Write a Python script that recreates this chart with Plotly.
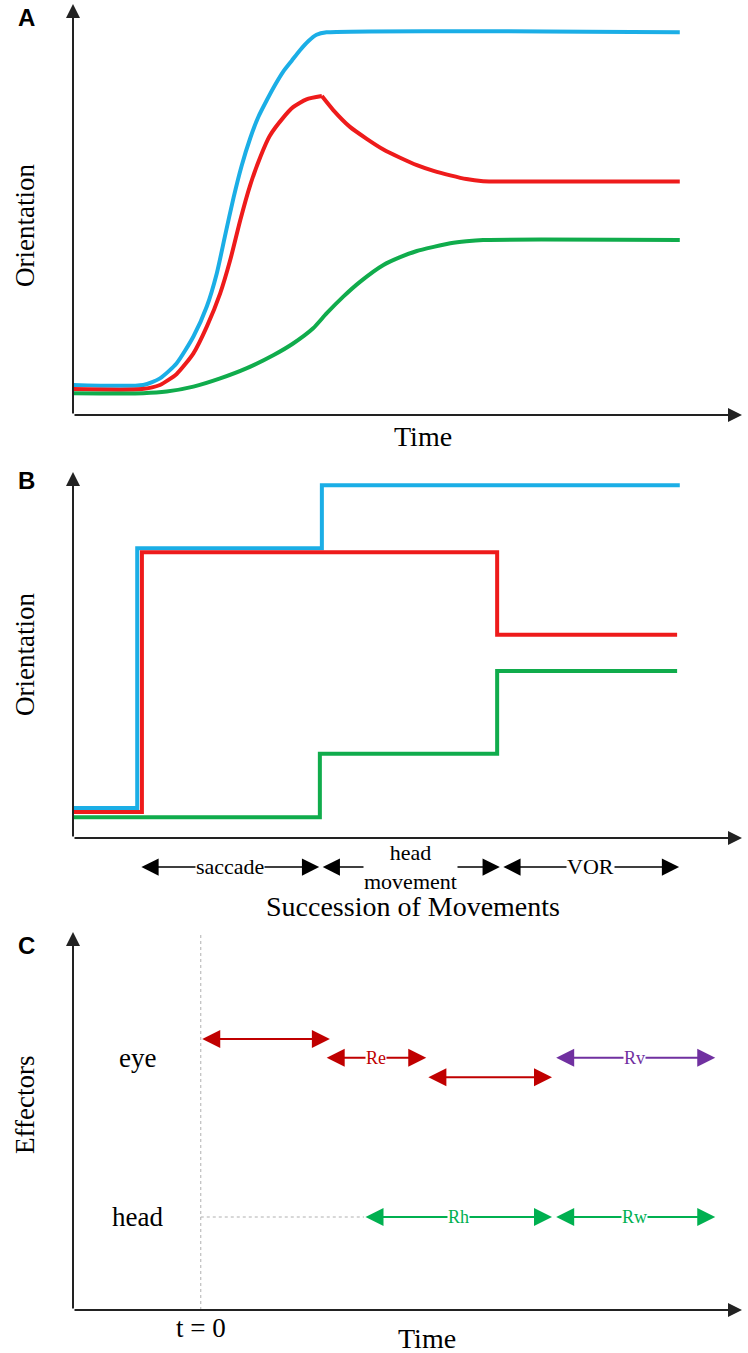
import plotly.graph_objects as go

# ---- panel A: continuous gaze shift (time / orientation, arbitrary units 0-100)
gaze_t_a = [0, 10.5, 13.0, 15.5, 18.0, 20.0, 21.5, 22.7, 24.0, 25.2, 26.5, 27.7, 29.0, 30.2,
            31.4, 32.7, 33.9, 35.2, 36.4, 37.9, 90.7]
gaze_a = [7.3, 7.3, 8.9, 12.6, 19.1, 26.4, 34.5, 43.4, 52.9, 60.6, 67.4, 72.5, 76.7, 80.3,
          83.5, 86.2, 88.7, 91.0, 92.5, 93.1, 93.1]

eye_t_a = [0, 10.3, 13.0, 15.5, 18.0, 20.0, 22.0, 23.5, 25.0, 26.5, 28.0, 29.4, 31.4, 32.9, 34.9, 37.2,
           38.9, 41.4, 43.9, 46.4, 48.9, 51.4, 53.9, 56.4, 58.8, 61.3, 63.8, 90.7]
eye_a = [6.3, 6.3, 7.3, 10.0, 15.0, 21.5, 29.6, 37.7, 47.4, 56.0, 62.8, 67.9, 72.3, 74.9, 76.8, 77.6,
         74.2, 70.1, 67.2, 64.6, 62.6, 60.8, 59.4, 58.3, 57.4, 56.9, 56.8, 56.8]

head_t_a = [0, 10.5, 14.0, 18.0, 22.0, 26.0, 30.0, 32.9, 35.9, 37.9, 40.4, 42.9, 46.4, 48.9,
            51.4, 53.9, 56.4, 58.8, 61.3, 90.7]
head_a = [5.3, 5.3, 5.7, 6.9, 8.9, 11.4, 14.6, 17.4, 21.1, 24.7, 28.8, 32.4, 36.5, 38.4,
          39.9, 40.9, 41.8, 42.3, 42.6, 42.6]

# ---- panel B: succession of movements (step changes)
gaze_t_b = [0, 9.6, 37.2, 90.7]
gaze_b = [8.2, 79.2, 96.4, 96.4]
eye_t_b = [0, 10.3, 63.4, 90.3]
eye_b = [7.1, 78.1, 55.5, 55.5]
head_t_b = [0, 36.9, 63.4, 90.3]
head_b = [5.7, 23.0, 45.6, 45.6]

phase_names = ["saccade", "head<br>movement", "VOR"]
phase_start = [10.0, 37.1, 64.1]
phase_end = [36.8, 63.8, 90.6]

# ---- panel C: effectors over time
effector_names = ["eye", "head"]
effector_level = [66.7, 24.6]
t0 = 19.1
c_labels = ["", "Re", "", "Rv", "Rh", "Rw"]
c_start = [19.1, 37.7, 52.9, 72.0, 43.5, 72.0]
c_end = [38.4, 52.8, 71.6, 96.0, 71.6, 96.0]
c_level = [71.7, 66.7, 61.6, 66.7, 24.6, 24.6]
c_color = ["#C00000", "#C00000", "#C00000", "#7030A0", "#00B050", "#00B050"]

BLUE, RED, GREEN = "#1BAEE6", "#EE1B1B", "#10AC4C"
SERIF = "Liberation Serif"
W, H = 748, 1353


def px_y(p):
    return 1 - p / H


fig = go.Figure()

spl = dict(width=4, shape="spline", smoothing=0.6)
fig.add_trace(go.Scatter(x=gaze_t_a, y=gaze_a, mode="lines", xaxis="x", yaxis="y",
                         line=dict(color=BLUE, **spl)))
# eye trace has a cusp at its peak: draw rise and decay separately
k = eye_a.index(max(eye_a))
fig.add_trace(go.Scatter(x=eye_t_a[:k + 1], y=eye_a[:k + 1], mode="lines", xaxis="x", yaxis="y",
                         line=dict(color=RED, **spl)))
fig.add_trace(go.Scatter(x=eye_t_a[k:], y=eye_a[k:], mode="lines", xaxis="x", yaxis="y",
                         line=dict(color=RED, **spl)))
fig.add_trace(go.Scatter(x=head_t_a, y=head_a, mode="lines", xaxis="x", yaxis="y",
                         line=dict(color=GREEN, **spl)))

for t, v, c in [(gaze_t_b, gaze_b, BLUE), (eye_t_b, eye_b, RED), (head_t_b, head_b, GREEN)]:
    fig.add_trace(go.Scatter(x=t, y=v, mode="lines", xaxis="x2", yaxis="y2",
                             line=dict(color=c, width=4, shape="hv")))

# dotted guides in C
fig.add_trace(go.Scatter(x=[t0, t0], y=[0, 100], mode="lines", xaxis="x3", yaxis="y3",
                         line=dict(color="#b0b0b0", width=1, dash="dot")))
fig.add_trace(go.Scatter(x=[t0, c_start[4]], y=[effector_level[1]] * 2, mode="lines",
                         xaxis="x3", yaxis="y3",
                         line=dict(color="#b0b0b0", width=1, dash="dot")))

x_dom = [73 / W, 742 / W]
hidden = dict(visible=False, range=[0, 100], fixedrange=True)
fig.update_layout(
    xaxis=dict(domain=x_dom, anchor="y", **hidden),
    yaxis=dict(domain=[px_y(415), px_y(4)], anchor="x", **hidden),
    xaxis2=dict(domain=x_dom, anchor="y2", **hidden),
    yaxis2=dict(domain=[px_y(838), px_y(472)], anchor="x2", **hidden),
    xaxis3=dict(domain=x_dom, anchor="y3", **hidden),
    yaxis3=dict(domain=[px_y(1310), px_y(932)], anchor="x3", **hidden),
)

ann = []
# axes with arrow tips
for i, (bottom, top) in enumerate([(415, 4), (838, 472), (1310, 932)]):
    sx = "" if i == 0 else str(i + 1)
    ann.append(dict(x=0, y=1, xref="x%s domain" % sx, yref="y%s domain" % sx,
                    ax=0, ay=bottom - top, text="", showarrow=True,
                    arrowhead=2, arrowsize=1.4, arrowwidth=2, arrowcolor="#222"))
    ann.append(dict(x=1, y=0, xref="x%s domain" % sx, yref="y%s domain" % sx,
                    ax=-669, ay=0, text="", showarrow=True,
                    arrowhead=2, arrowsize=1.4, arrowwidth=2, arrowcolor="#222"))

# panel letters and axis titles
for letter, py in [("A", 17), ("B", 481), ("C", 945)]:
    ann.append(dict(x=26 / W, y=px_y(py), xref="paper", yref="paper", text="<b>%s</b>" % letter,
                    showarrow=False, font=dict(family="Liberation Sans", size=24, color="black"),
                    xanchor="center", yanchor="middle"))
for txt, py in [("Orientation", 226), ("Orientation", 655), ("Effectors", 1105)]:
    ann.append(dict(x=25 / W, y=px_y(py), xref="paper", yref="paper", text=txt, textangle=-90,
                    showarrow=False, font=dict(family=SERIF, size=27, color="black"),
                    xanchor="center", yanchor="middle"))
for txt, xx, py in [("Time", 423, 436), ("Succession of Movements", 413, 906), ("Time", 427, 1338)]:
    ann.append(dict(x=xx / W, y=px_y(py), xref="paper", yref="paper", text=txt,
                    showarrow=False, font=dict(family=SERIF, size=28, color="black"),
                    xanchor="center", yanchor="middle"))

# panel B phase arrows (below the axis, so y is placed on the page)
phase_y = px_y(867)
for name, s, e in zip(phase_names, phase_start, phase_end):
    ann.append(dict(x=e, y=phase_y, ax=s, ay=0, xref="x2", yref="paper",
                    axref="x2", ayref="pixel", text="", showarrow=True, arrowside="end+start",
                    arrowhead=2, startarrowhead=2, arrowsize=2.3, startarrowsize=2.3,
                    arrowwidth=1.5, arrowcolor="black"))
for name, s, e in zip(phase_names, phase_start, phase_end):
    ann.append(dict(x=(s + e) / 2, y=phase_y, xref="x2", yref="paper", text=name,
                    showarrow=False, bgcolor="white", borderpad=0, yanchor="middle",
                    font=dict(family=SERIF, size=22, color="black")))

# panel C effector arrows
for lab, s, e, lv, c in zip(c_labels, c_start, c_end, c_level, c_color):
    ann.append(dict(x=e, y=lv, ax=s, ay=lv, xref="x3", yref="y3", axref="x3", ayref="y3",
                    text="", showarrow=True, arrowside="end+start",
                    arrowhead=2, startarrowhead=2, arrowsize=1.8, startarrowsize=1.8,
                    arrowwidth=2, arrowcolor=c))
for lab, s, e, lv, c in zip(c_labels, c_start, c_end, c_level, c_color):
    if lab:
        ann.append(dict(x=(s + e) / 2, y=lv, xref="x3", yref="y3", text=lab, showarrow=False,
                        bgcolor="white", borderpad=0, font=dict(family=SERIF, size=18, color=c)))
for name, lv in zip(effector_names, effector_level):
    ann.append(dict(x=9.7, y=lv, xref="x3", yref="y3", text=name, showarrow=False,
                    font=dict(family=SERIF, size=27, color="black")))
ann.append(dict(x=t0, y=px_y(1328), xref="x3", yref="paper", text="t = 0", showarrow=False,
                yanchor="middle", font=dict(family=SERIF, size=27, color="black")))

fig.update_layout(
    annotations=ann,
    width=W, height=H,
    margin=dict(l=0, r=0, t=0, b=0),
    paper_bgcolor="white", plot_bgcolor="white",
    showlegend=False,
)

fig.write_html("out.html", config={"displayModeBar": False},
               post_script="document.body.style.margin='0px';")
